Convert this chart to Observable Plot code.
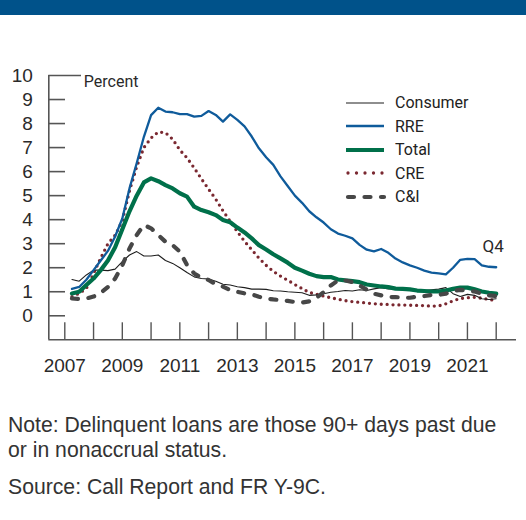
<!DOCTYPE html>
<html>
<head>
<meta charset="utf-8">
<script src="https://cdn.jsdelivr.net/npm/d3@7"></script>
<script src="https://cdn.jsdelivr.net/npm/@observablehq/plot@0.6"></script>
<style>
  html, body { margin: 0; padding: 0; background: #fff; }
  #page { position: relative; width: 526px; height: 520px; overflow: hidden; font-family: "Liberation Sans", Arial, sans-serif; }
  #bar { position: absolute; left: 0; top: 0; width: 526px; height: 15px; background: #00528a; }
  #chart { position: absolute; left: 0; top: 60px; }
  .narrow { font-family: Roboto, "Liberation Sans", sans-serif; }
  #legend { position: absolute; left: 346px; top: 91px; color: #222; font-size: 16px; }
  #legend .row { display: flex; align-items: center; height: 23.5px; }
  #legend svg { width: 40px; height: 10px; margin-right: 9px; overflow: visible; }
  #notes { position: absolute; left: 8px; top: 413px; color: #333; font-size: 21.2px; line-height: 24.5px; }
  #notes p { margin: 0; }
  #notes p.src { margin-top: 13px; }
</style>
</head>
<body>
<div id="page">
  <div id="bar"></div>
  <div id="chart"></div>
  <div id="legend" class="narrow"></div>
  <div id="notes">
    <p>Note: Delinquent loans are those 90+ days past due<br>or in nonaccrual status.</p>
    <p class="src">Source: Call Report and FR Y-9C.</p>
  </div>
</div>
<script>
// Quarterly observations, 2007:Q1 ... 2021:Q4 (plotted at quarter end)
const quarterStart = 2007.25;
const consumer = [1.51,1.44,1.7,1.9,1.9,1.88,1.94,2.25,2.53,2.67,2.49,2.49,2.53,2.3,2.18,2.0,1.8,1.62,1.55,1.53,1.44,1.31,1.28,1.21,1.17,1.11,1.11,1.1,1.04,1.03,1.0,0.98,0.96,0.85,0.87,0.92,0.98,1.01,1.05,1.03,1.08,1.05,1.12,1.17,1.12,1.12,1.08,1.08,1.05,1.05,1.08,1.11,1.17,0.92,0.8,0.89,0.85,0.71,0.68,0.71];
const rre = [1.12,1.2,1.5,1.9,2.3,2.7,3.3,4.05,5.3,6.35,7.45,8.35,8.66,8.5,8.47,8.39,8.39,8.29,8.32,8.52,8.36,8.08,8.38,8.15,7.88,7.46,6.97,6.6,6.28,5.8,5.4,5.0,4.7,4.35,4.1,3.88,3.6,3.42,3.33,3.22,2.95,2.75,2.68,2.78,2.62,2.38,2.22,2.1,2.0,1.88,1.8,1.76,1.72,2.0,2.33,2.37,2.36,2.1,2.04,2.02];
const total = [0.93,1.0,1.28,1.55,1.9,2.3,2.85,3.6,4.35,5.0,5.55,5.72,5.6,5.44,5.3,5.1,4.96,4.54,4.4,4.31,4.19,3.99,3.89,3.67,3.47,3.22,2.94,2.76,2.56,2.39,2.21,2.0,1.88,1.75,1.65,1.61,1.61,1.51,1.47,1.44,1.4,1.3,1.26,1.22,1.19,1.13,1.12,1.1,1.05,1.03,1.01,1.01,1.05,1.12,1.17,1.17,1.1,1.01,0.96,0.92];
const cre = [0.8,0.93,1.14,1.76,2.4,3.0,3.35,3.95,5.2,6.2,7.0,7.4,7.65,7.62,7.35,6.9,6.57,6.15,5.7,5.27,4.85,4.37,3.93,3.5,3.1,2.75,2.4,2.1,1.85,1.65,1.48,1.3,1.13,0.97,0.9,0.82,0.75,0.69,0.63,0.59,0.56,0.53,0.5,0.48,0.47,0.45,0.45,0.44,0.43,0.42,0.4,0.41,0.5,0.62,0.72,0.75,0.77,0.73,0.68,0.63];
const ci = [0.72,0.7,0.72,0.8,0.95,1.2,1.55,2.1,2.8,3.36,3.78,3.64,3.36,3.08,2.94,2.67,2.11,1.76,1.58,1.49,1.31,1.21,1.07,1.0,0.93,0.89,0.79,0.72,0.68,0.65,0.62,0.57,0.55,0.6,0.75,0.98,1.26,1.47,1.47,1.4,1.26,1.08,0.92,0.85,0.78,0.78,0.75,0.75,0.8,0.82,0.87,0.87,0.92,1.03,1.08,1.05,1.01,0.92,0.85,0.82];

const seriesNames = ["Consumer", "RRE", "Total", "CRE", "C&I"];
const yTicks = [0,1,2,3,4,5,6,7,8,9,10];
const yearTicks = [2007,2008,2009,2010,2011,2012,2013,2014,2015,2016,2017,2018,2019,2020,2021,2022];
const yearLabels = [2007,2009,2011,2013,2015,2017,2019,2021];
const unitLabel = "Percent";
const endLabel = "Q4";

const styles = {
  "Consumer": {stroke: "#1e1e1e", strokeWidth: 1.1},
  "RRE":      {stroke: "#0f5b9b", strokeWidth: 2.3},
  "Total":    {stroke: "#00704a", strokeWidth: 4.2},
  "CRE":      {stroke: "#7a2830", strokeWidth: 3.3, strokeDasharray: "0 5.9", strokeLinecap: "round"},
  "C&I":      {stroke: "#474747", strokeWidth: 4.2, strokeDasharray: "6 10.5", strokeLinecap: "round"}
};
const values = {"Consumer": consumer, "RRE": rre, "Total": total, "CRE": cre, "C&I": ci};
const toRows = (arr) => arr.map((v, i) => ({t: quarterStart + i * 0.25, v}));

const W = 526, H = 330, mT = 15, mL = 48.3, mR = 10;
const yDomain = [-1, 10];
const xDomain = [2007 - 0.556, 2022 + 0.706];
const mB = 50.7;
const frameW = W - mL - mR, frameH = H - mT - mB;
const axisColor = "#555";
const narrowFont = 'Roboto, "Liberation Sans", sans-serif';

const drawOrder = ["CRE", "Consumer", "RRE", "Total", "C&I"];
const rreRows = toRows(rre);

const chart = Plot.plot({
  width: W, height: H,
  marginTop: mT, marginBottom: mB, marginLeft: mL, marginRight: mR,
  style: {fontFamily: '"Liberation Sans", Arial, sans-serif', fontSize: "19px", color: "#2a2a2a", background: "white"},
  x: {type: "linear", domain: xDomain},
  y: {type: "linear", domain: yDomain},
  marks: [
    Plot.ruleX([xDomain[0]], {stroke: axisColor, strokeWidth: 1.6}),
    Plot.ruleY([yDomain[0]], {stroke: axisColor, strokeWidth: 1.6}),
    Plot.tickY(yTicks.filter(d => d < 10), {y: d => d, stroke: axisColor, strokeWidth: 1.6, insetRight: frameW - 16.7}),
    Plot.tickY(yTicks.filter(d => d === 10), {y: d => d, stroke: axisColor, strokeWidth: 1.6, insetRight: frameW - 32.7}),
    Plot.tickX(yearTicks, {x: d => d, stroke: axisColor, strokeWidth: 1.4, insetTop: frameH - 17}),
    Plot.axisY({ticks: yTicks, tickSize: 0, tickPadding: 16, fontSize: 19, tickFormat: d => String(d), label: null}),
    Plot.axisX({ticks: yearLabels, tickSize: 0, tickPadding: 19, fontSize: 19, tickFormat: d => String(d), label: null}),
    Plot.text([unitLabel], {frameAnchor: "top-left", dx: 35, dy: 6, text: d => d, textAnchor: "start", lineAnchor: "middle", fontSize: 16, fontFamily: narrowFont, fill: "#2a2a2a"}),
    ...drawOrder.map(name => Plot.line(toRows(values[name]), {x: "t", y: "v", fill: "none", strokeLinejoin: "round", ...styles[name]})),
    Plot.text([rreRows[rreRows.length - 1]], {x: "t", y: "v", text: () => endLabel, dx: -3, dy: -21, textAnchor: "middle", lineAnchor: "middle", fontSize: 17, fontFamily: narrowFont, fill: "#2a2a2a"})
  ]
});
document.getElementById("chart").appendChild(chart);

// Legend
const legend = document.getElementById("legend");
for (const name of seriesNames) {
  const s = styles[name];
  const row = document.createElement("div");
  row.className = "row";
  const ns = "http://www.w3.org/2000/svg";
  const svg = document.createElementNS(ns, "svg");
  const line = document.createElementNS(ns, "line");
  line.setAttribute("x1", name === "CRE" || name === "C&I" ? 2 : 0);
  line.setAttribute("x2", 38);
  line.setAttribute("y1", 5); line.setAttribute("y2", 5);
  line.setAttribute("stroke", s.stroke);
  line.setAttribute("stroke-width", s.strokeWidth);
  if (s.strokeDasharray) line.setAttribute("stroke-dasharray", name === "CRE" ? "0 8.5" : s.strokeDasharray);
  if (s.strokeLinecap) line.setAttribute("stroke-linecap", s.strokeLinecap);
  svg.appendChild(line);
  row.appendChild(svg);
  const label = document.createElement("span");
  label.textContent = name;
  row.appendChild(label);
  legend.appendChild(row);
}
</script>
</body>
</html>
